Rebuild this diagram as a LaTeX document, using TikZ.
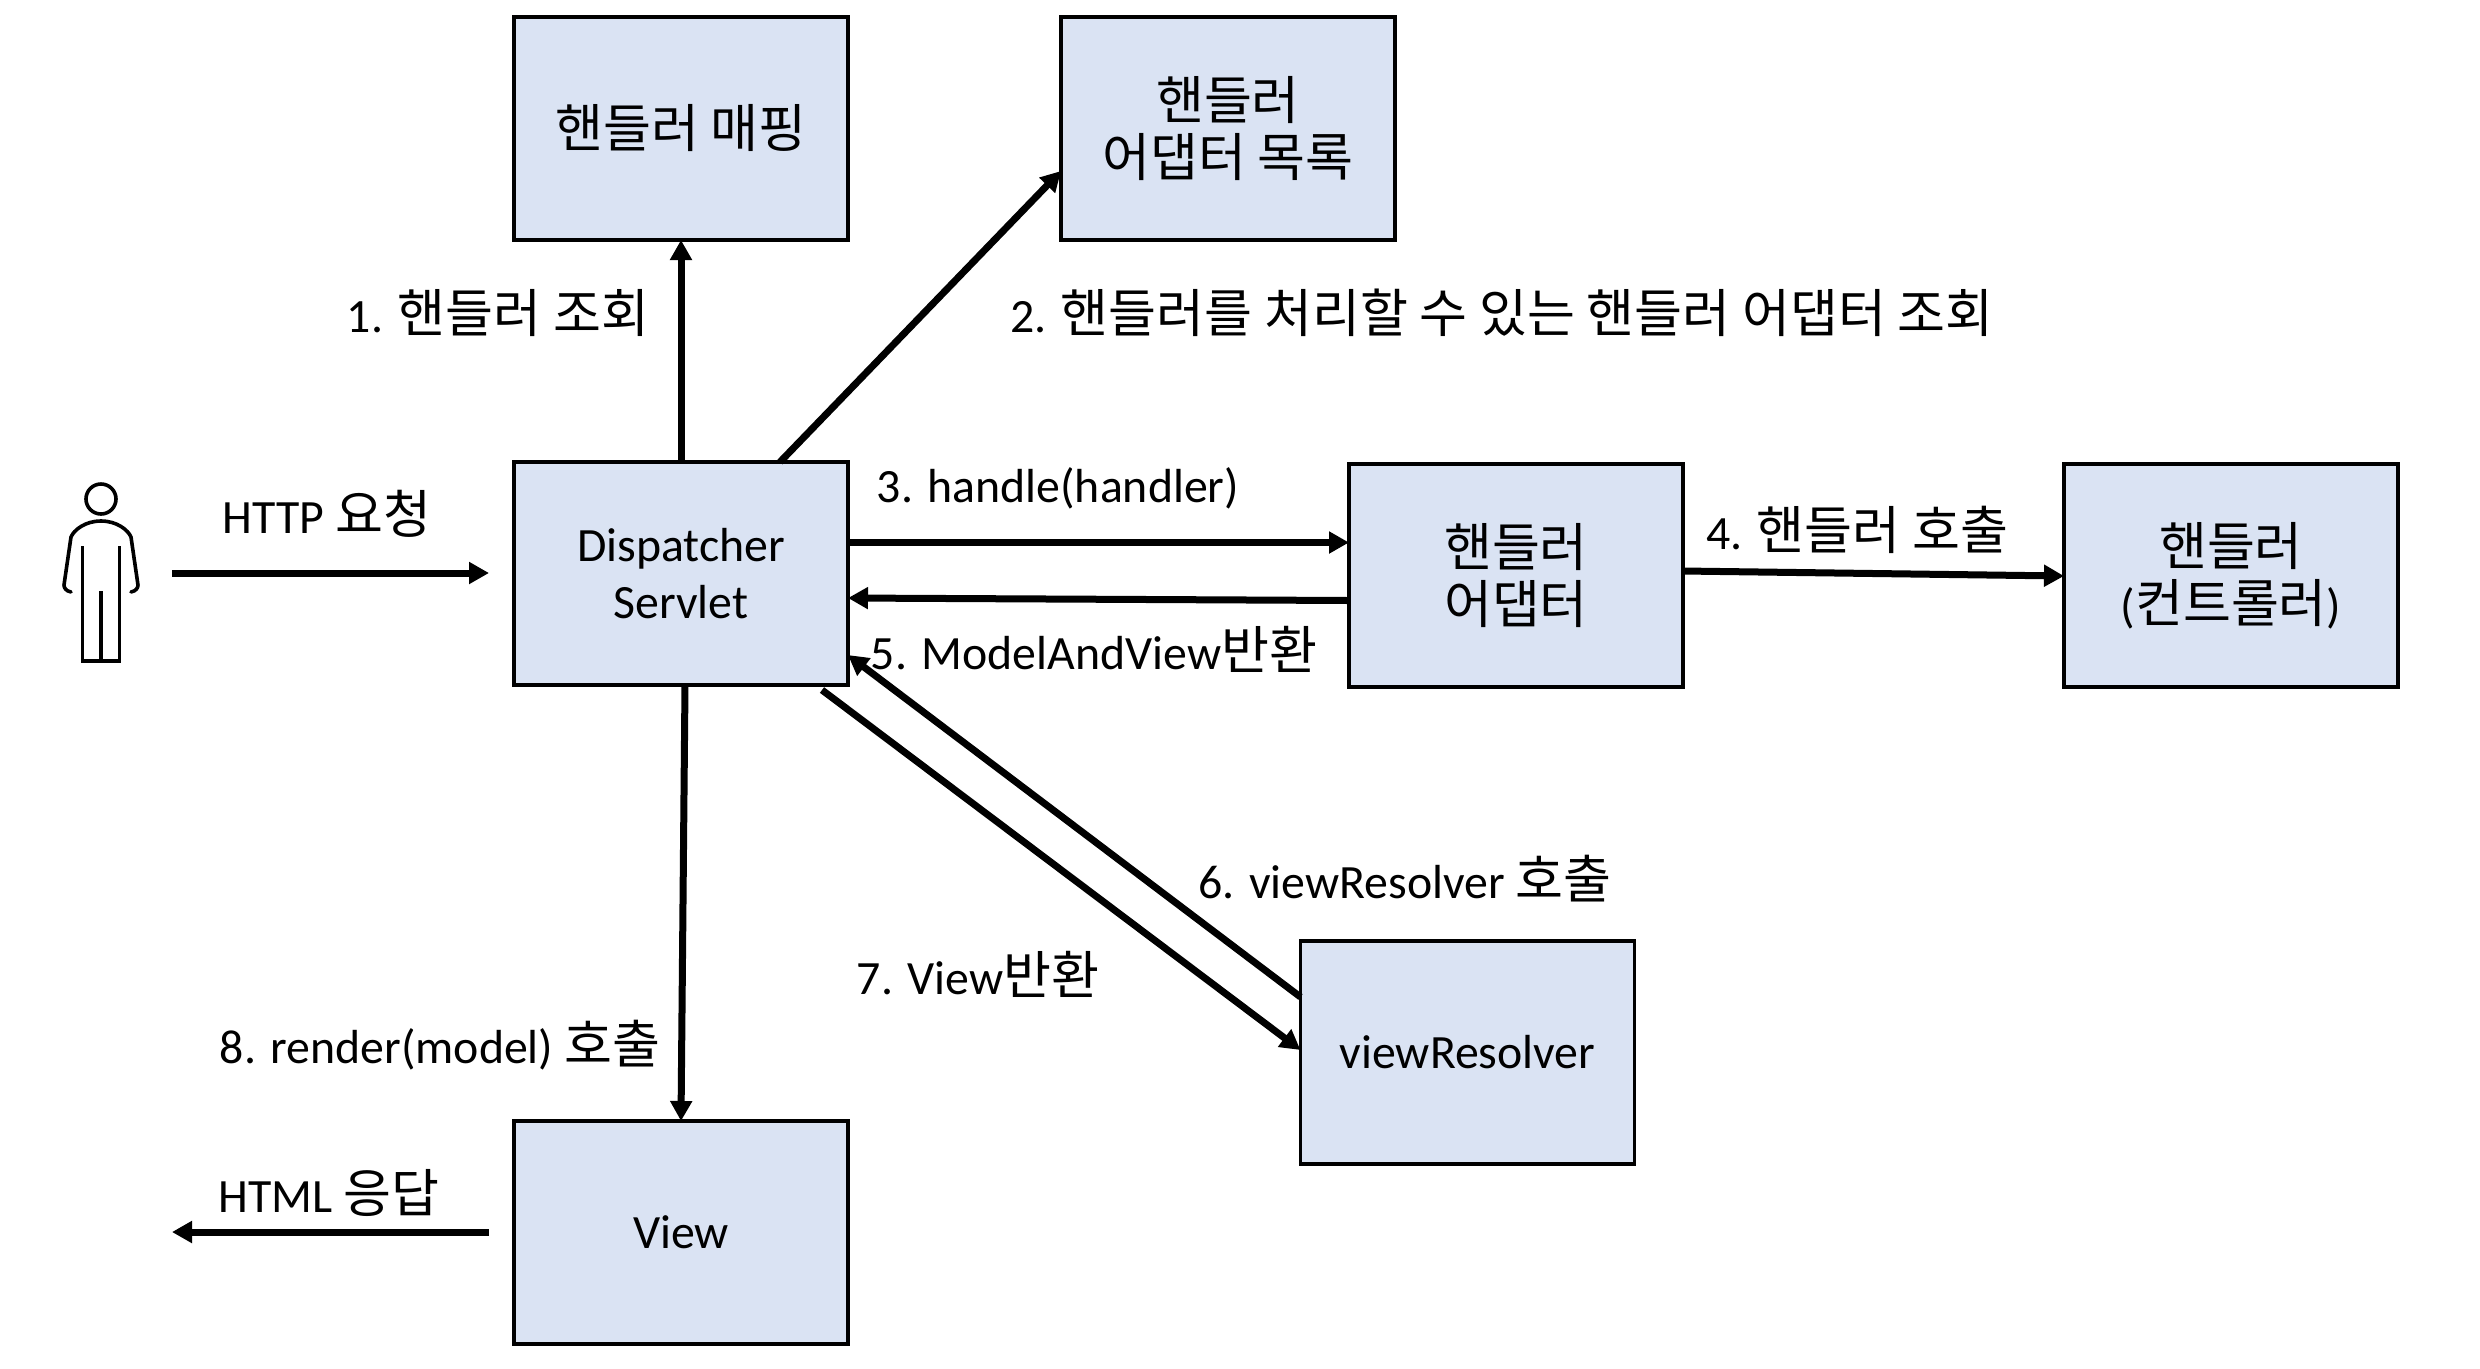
\documentclass[tikz,border=0pt]{standalone}
\usepackage{fontspec}
\setmainfont{Carlito}
\newfontfamily\cjk[Scale=1.09]{Noto Sans CJK KR}
\usepackage{xcolor}
\usetikzlibrary{arrows.meta, positioning}
\definecolor{boxblue}{HTML}{DAE3F3}

\begin{document}
\begin{tikzpicture}[
  font=\fontsize{13.6}{16.2}\selectfont,
  box/.style={draw, line width=0.035cm, fill=boxblue, minimum width=3.34cm, minimum height=2.23cm, align=center, inner sep=0pt, outer sep=0pt},
  flow/.style={line width=0.07cm, -{Triangle[length=0.2cm, width=0.21cm]}},
  person/.style={line width=0.036cm, line cap=round, line join=round},
  lbl/.style={inner sep=0pt}
]
  \useasboundingbox (0,0) rectangle (24.8,-13.68);
  \node[box] (map) at (6.81,-1.285) {{\cjk 핸들러 매핑}};
  \node[box] (lst) at (12.28,-1.285) {{\cjk 핸들러}\\{\cjk 어댑터 목록}};
  \node[box] (disp) at (6.81,-5.735) {Dispatcher\\Servlet};
  \node[box] (adp) at (15.16,-5.755) {{\cjk 핸들러}\\{\cjk 어댑터}};
  \node[box] (hdl) at (22.31,-5.755) {{\cjk 핸들러}\\({\cjk 컨트롤러})};
  \node[box] (vr) at (14.675,-10.525) {viewResolver};
  \node[box] (vw) at (6.81,-12.325) {View};

  \coordinate (reqstart) at (1.72,-5.73);
  \coordinate (reqend) at (4.89,-5.73);
  \coordinate (resstart) at (4.89,-12.32);
  \coordinate (resend) at (1.72,-12.32);

  % person
  \node[draw, circle, person, minimum size=0.3cm, inner sep=0pt] (head) at (1.01,-4.99) {};
  \draw[person] (0.71,-5.92) .. controls (0.66,-5.91) and (0.64,-5.88) .. (0.64,-5.85) -- (0.71,-5.37)
    .. controls (0.74,-5.30) and (0.85,-5.21) .. (1.01,-5.21)
    .. controls (1.17,-5.21) and (1.28,-5.30) .. (1.31,-5.37) -- (1.38,-5.85)
    .. controls (1.38,-5.88) and (1.36,-5.91) .. (1.31,-5.92);
  \draw[person, line join=miter, line cap=butt] (0.825,-5.46) -- (0.825,-6.61) -- (1.195,-6.61) -- (1.195,-5.46);
  \draw[person, line cap=butt] (1.01,-5.91) -- (1.01,-6.61);

  \draw[flow] (reqstart) -- (reqend);
  \draw[flow] (disp.north) -- (map.south);
  \draw[flow] ([xshift=0.99cm]disp.north) -- ([yshift=-0.425cm]lst.west);
  \draw[flow] ([yshift=0.31cm]disp.east) -- ([yshift=0.33cm]adp.west);
  \draw[flow] ([yshift=-0.25cm]adp.west) -- ([yshift=-0.245cm]disp.east);
  \draw[flow] ([yshift=0.045cm]adp.east) -- ([yshift=-0.005cm]hdl.west);
  \draw[flow] ([yshift=0.555cm]vr.west) -- ([yshift=-0.815cm]disp.east);
  \draw[flow] ([xshift=1.41cm,yshift=-0.05cm]disp.south) -- ([yshift=0.025cm]vr.west);
  \draw[flow] ([xshift=0.04cm]disp.south) -- (vw.north);
  \draw[flow] (resstart) -- (resend);

  \node[lbl] (lreq) at (3.27,-5.14) {HTTP {\cjk 요청}};
  \node[lbl] (lone) at (4.98,-3.13) {1. {\cjk 핸들러 조회}};
  \node[lbl] (ltwo) at (15.02,-3.13) {2. {\cjk 핸들러를 처리할 수 있는 핸들러 어댑터 조회}};
  \node[lbl] (lthree) at (10.58,-4.885) {3. handle(handler)};
  \node[lbl] (lfour) at (18.57,-5.30) {4. {\cjk 핸들러 호출}};
  \node[lbl] (lfive) at (10.94,-6.49) {5. ModelAndView{\cjk 반환}};
  \node[lbl] (lsix) at (14.05,-8.79) {6. viewResolver {\cjk 호출}};
  \node[lbl] (lseven) at (9.78,-9.74) {7. View{\cjk 반환}};
  \node[lbl] (leight) at (4.40,-10.45) {8. render(model) {\cjk 호출}};
  \node[lbl] (lres) at (3.29,-11.93) {HTML {\cjk 응답}};
\end{tikzpicture}
\end{document}
